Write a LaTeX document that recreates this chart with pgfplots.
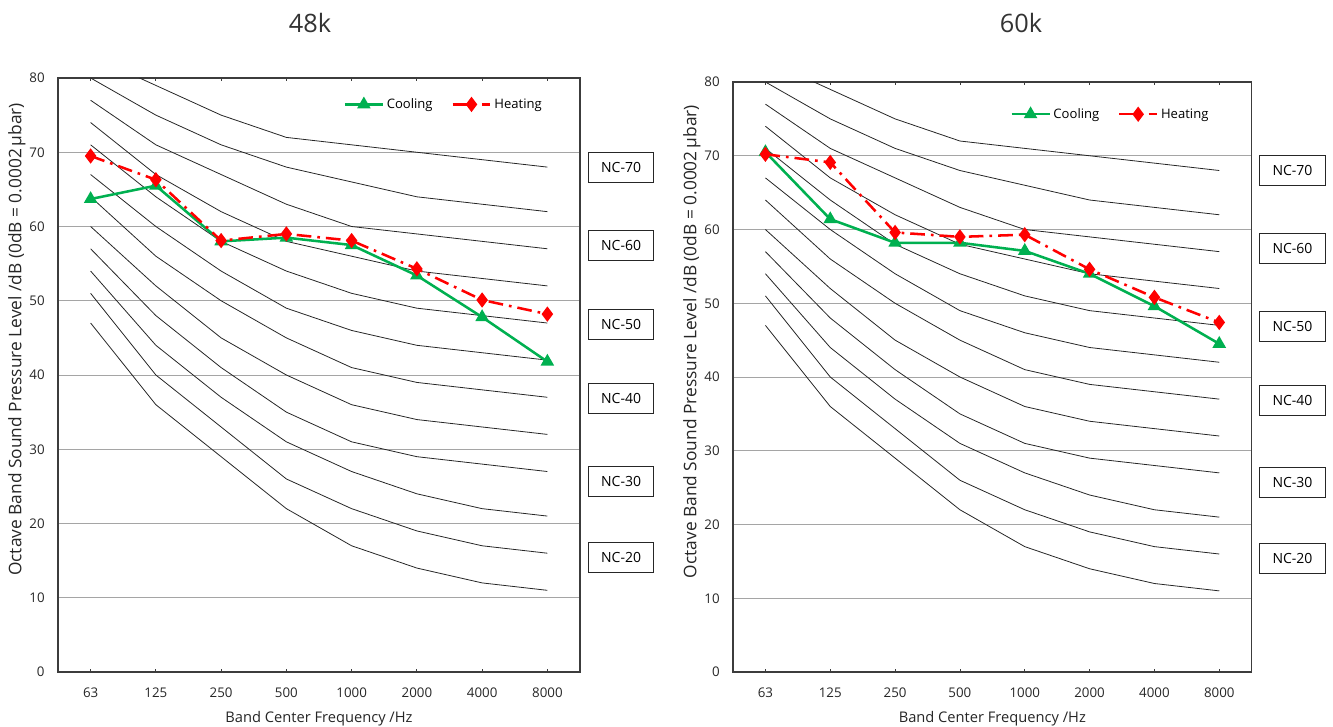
\documentclass[border=0pt]{standalone}
\usepackage{pgfplots}
\pgfplotsset{compat=1.18}
\usepackage{pgfplotstable}
\usepackage{fontspec}
\setmainfont{Open Sans}
\definecolor{cgreen}{RGB}{0,176,80}
\definecolor{gridgray}{RGB}{165,165,165}
\definecolor{axgray}{RGB}{60,60,60}

\pgfplotstableread{
x nca ncb ncc ncd nce ncf ncg nch nci ncj nck ncl
0 47 51 54 57 60 64 67 71 74 77 80 83
1 36 40 44 48 52 56 60 64 67 71 75 79
2 29 33 37 41 45 50 54 58 62 67 71 75
3 22 26 31 35 40 45 49 54 58 63 68 72
4 17 22 27 31 36 41 46 51 56 60 66 71
5 14 19 24 29 34 39 44 49 54 59 64 70
6 12 17 22 28 33 38 43 48 53 58 63 69
7 11 16 21 27 32 37 42 47 52 57 62 68
}\nc

\pgfplotstableread{
x cool heat
0 63.7 69.5
1 65.5 66.3
2 58.0 58.1
3 58.5 59.0
4 57.5 58.1
5 53.4 54.3
6 47.8 50.1
7 41.8 48.2
}\dataA

\pgfplotstableread{
x cool heat
0 70.5 70.2
1 61.4 69.1
2 58.2 59.6
3 58.2 59.0
4 57.1 59.3
5 54.0 54.6
6 49.6 50.8
7 44.5 47.4
}\dataB

\tikzset{
  ncbox/.style={draw=black!85, line width=0.6pt, fill=white, minimum width=49pt, minimum height=22.5pt, font=\fontsize{10.5}{12}\selectfont, inner sep=0pt},
}

\pgfplotsset{
  ncline/.style={black!85, line width=0.6pt, forget plot},
  ncaxis/.style={
    scale only axis,
    xmin=-0.5, xmax=7.5, ymin=0, ymax=80,
    xtick={0,...,7},
    xticklabels={63,125,250,500,1000,2000,4000,8000},
    ytick={0,10,...,80},
    ymajorgrids,
    grid style={gridgray, line width=0.7pt},
    axis line style={axgray, line width=1pt},
    x tick style={axgray, line width=0.6pt},
    ytick style={draw=none},
    major tick length=2.5pt,
    tick align=inside,
    /pgf/number format/assume math mode=true,
    ticklabel style={font=\fontsize{10}{12}\selectfont, text=black!85},
    xticklabel style={yshift=-8pt},
    yticklabel style={xshift=-6.5pt},
    xlabel={Band Center Frequency /Hz},
    ylabel={Octave Band Sound Pressure Level /dB (0dB = 0.0002\,μbar)},
    xlabel style={font=\fontsize{11}{13}\selectfont, text=black!85, yshift=-4pt},
    ylabel style={font=\fontsize{13}{15}\selectfont, text=black!85, at={(ticklabel cs:0.56)}, yshift=-4pt},
    clip mode=individual,
    legend columns=2,
    legend style={draw=none, fill=none, font=\fontsize{9.8}{12}\selectfont,
      /tikz/every even column/.append style={column sep=12pt}},
    legend image code/.code={\draw[mark repeat=2,mark phase=2] plot coordinates {(0cm,0cm)(0.5cm,0cm)(1cm,0cm)};},
  }
}

\newcommand{\ncplots}{%
  \addplot[ncline] table[x=x,y=nca] {\nc};
  \addplot[ncline] table[x=x,y=ncb] {\nc};
  \addplot[ncline] table[x=x,y=ncc] {\nc};
  \addplot[ncline] table[x=x,y=ncd] {\nc};
  \addplot[ncline] table[x=x,y=nce] {\nc};
  \addplot[ncline] table[x=x,y=ncf] {\nc};
  \addplot[ncline] table[x=x,y=ncg] {\nc};
  \addplot[ncline] table[x=x,y=nch] {\nc};
  \addplot[ncline] table[x=x,y=nci] {\nc};
  \addplot[ncline] table[x=x,y=ncj] {\nc};
  \addplot[ncline] table[x=x,y=nck] {\nc};
  \addplot[ncline] table[x=x,y=ncl] {\nc};
}
\newcommand{\ncboxes}{%
  \node[ncbox] at (axis cs:8.13,68.0) {NC-70};
  \node[ncbox] at (axis cs:8.13,57.4) {NC-60};
  \node[ncbox] at (axis cs:8.13,46.8) {NC-50};
  \node[ncbox] at (axis cs:8.13,36.8) {NC-40};
  \node[ncbox] at (axis cs:8.13,25.7) {NC-30};
  \node[ncbox] at (axis cs:8.13,15.4) {NC-20};
}

\begin{document}
\begin{tikzpicture}
\useasboundingbox (0pt,0pt) rectangle (999.75pt,-545.25pt);

\node[font=\fontsize{19}{22}\selectfont, text=black!80] at (232.5pt,-17pt) {48k};
\node[font=\fontsize{19}{22}\selectfont, text=black!80] at (765.75pt,-17pt) {60k};

\begin{axis}[ncaxis, at={(43.5pt,-504pt)}, anchor=south west,
  width=391.5pt, height=445.5pt,
  legend style={at={(0.94,0.975)}, anchor=north east}]
  \ncplots
  \addplot[cgreen, line width=1.9pt, mark=triangle*, mark size=4pt, mark options={solid}] table[x=x,y=cool] {\dataA};
  \addlegendentry{Cooling}
  \addplot[red, line width=1.9pt, dash pattern=on 11pt off 4.5pt on 2pt off 4.5pt, mark=diamond*, mark size=4.2pt, mark options={solid}] table[x=x,y=heat] {\dataA};
  \addlegendentry{Heating}
  \ncboxes
\end{axis}

\begin{axis}[ncaxis, at={(549.75pt,-504pt)}, anchor=south west,
  width=389pt, height=442.5pt,
  legend style={at={(0.93,0.965)}, anchor=north east}]
  \ncplots
  \addplot[cgreen, line width=1.9pt, mark=triangle*, mark size=4pt, mark options={solid}] table[x=x,y=cool] {\dataB};
  \addlegendentry{Cooling}
  \addplot[red, line width=1.9pt, dash pattern=on 11pt off 4.5pt on 2pt off 4.5pt, mark=diamond*, mark size=4.2pt, mark options={solid}] table[x=x,y=heat] {\dataB};
  \addlegendentry{Heating}
  \ncboxes
\end{axis}
\end{tikzpicture}
\end{document}
